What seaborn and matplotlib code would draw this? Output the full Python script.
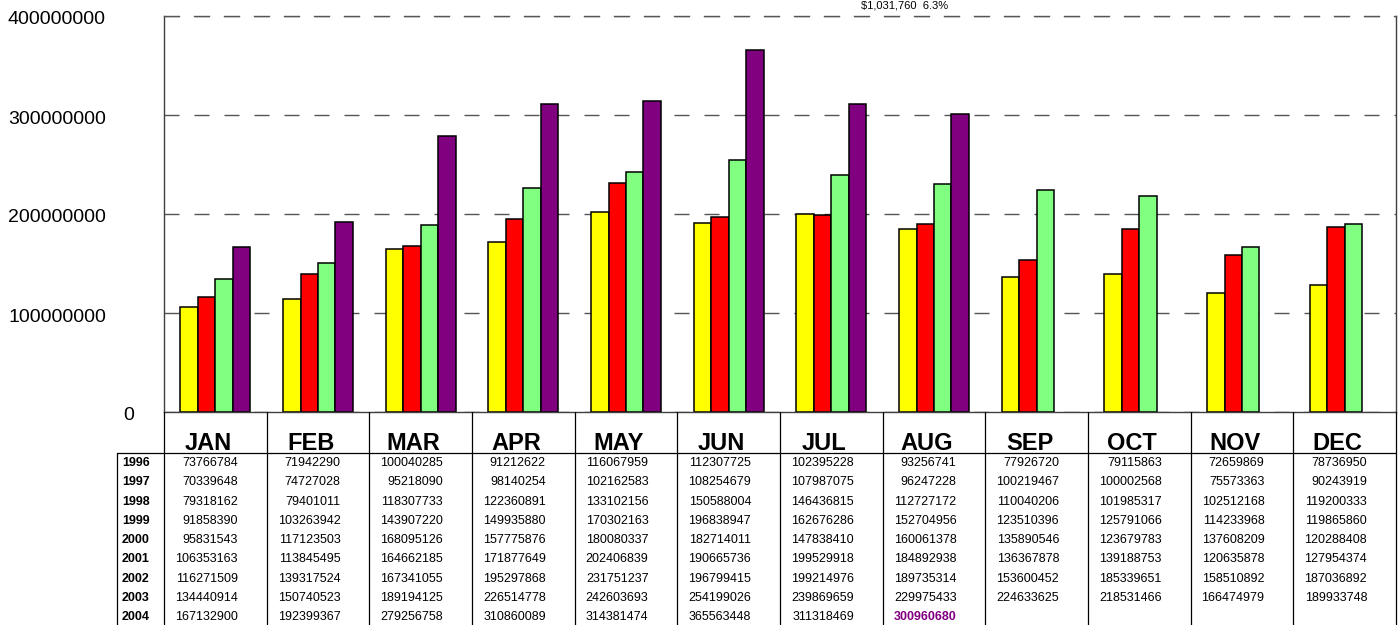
import numpy as np
import pandas as pd
import matplotlib
matplotlib.use("Agg")
import matplotlib.pyplot as plt
import matplotlib.transforms as mtransforms
import seaborn as sns

# ---------------- data ----------------
months = ["JAN", "FEB", "MAR", "APR", "MAY", "JUN", "JUL", "AUG", "SEP", "OCT", "NOV", "DEC"]
years = ["1996", "1997", "1998", "1999", "2000", "2001", "2002", "2003", "2004"]

v1996 = [73766784, 71942290, 100040285, 91212622, 116067959, 112307725, 102395228, 93256741, 77926720, 79115863, 72659869, 78736950]
v1997 = [70339648, 74727028, 95218090, 98140254, 102162583, 108254679, 107987075, 96247228, 100219467, 100002568, 75573363, 90243919]
v1998 = [79318162, 79401011, 118307733, 122360891, 133102156, 150588004, 146436815, 112727172, 110040206, 101985317, 102512168, 119200333]
v1999 = [91858390, 103263942, 143907220, 149935880, 170302163, 196838947, 162676286, 152704956, 123510396, 125791066, 114233968, 119865860]
v2000 = [95831543, 117123503, 168095126, 157775876, 180080337, 182714011, 147838410, 160061378, 135890546, 123679783, 137608209, 120288408]
v2001 = [106353163, 113845495, 164662185, 171877649, 202406839, 190665736, 199529918, 184892938, 136367878, 139188753, 120635878, 127954374]
v2002 = [116271509, 139317524, 167341055, 195297868, 231751237, 196799415, 199214976, 189735314, 153600452, 185339651, 158510892, 187036892]
v2003 = [134440914, 150740523, 189194125, 226514778, 242603693, 254199026, 239869659, 229975433, 224633625, 218531466, 166474979, 189933748]
v2004 = [167132900, 192399367, 279256758, 310860089, 314381474, 365563448, 311318469, 300960680, None, None, None, None]

table_rows = [v1996, v1997, v1998, v1999, v2000, v2001, v2002, v2003, v2004]

plot_years = ["2001", "2002", "2003", "2004"]
plot_series = [v2001, v2002, v2003, v2004]
bar_colors = ["#FFFF00", "#FF0000", "#80FF80", "#800080"]

yticks = [0, 100000000, 200000000, 300000000, 400000000]
top_note = "$1,031,760  6.3%"

# ---------------- frame ----------------
records = []
for yr, vals in zip(plot_years, plot_series):
    for m, v in zip(months, vals):
        if v is not None:
            records.append({"month": m, "year": yr, "value": v})
df = pd.DataFrame(records)

sns.set_theme(style="white")
plt.rcParams["font.family"] = ["Liberation Sans", "DejaVu Sans"]

W, H = 1399, 625
fig = plt.figure(figsize=(W / 100, H / 100), dpi=100)

# pixel layout
ax_l, ax_r, ax_t, ax_b = 164, 1396, 16, 412
tb_l = 117
ax = fig.add_axes([ax_l / W, 1 - ax_b / H, (ax_r - ax_l) / W, (ax_b - ax_t) / H])

sns.barplot(data=df, x="month", y="value", hue="year", order=months, hue_order=plot_years,
            palette=bar_colors, width=0.68, edgecolor="black", linewidth=1.1,
            errorbar=None, legend=False, saturation=1, ax=ax)

ax.set_xlim(-0.5, 11.5)
ax.set_ylim(0, 400000000)
ax.set_xlabel("")
ax.set_ylabel("")
ax.set_xticks([])
ax.set_yticks(yticks)
ax.set_yticklabels([])
ax.tick_params(length=0)
dash = (0, (10.8, 10.8))
ax.yaxis.grid(True, color="#555555", linestyle=dash, linewidth=1.0)
ax.set_axisbelow(True)
for s in ["left", "right", "bottom"]:
    ax.spines[s].set_visible(True)
    ax.spines[s].set_color("#404040")
    ax.spines[s].set_linewidth(1.0)
ax.spines["top"].set_color("#555555")
ax.spines["top"].set_linestyle(dash)
ax.spines["top"].set_linewidth(1.0)

# y labels (Excel-like placement)
trans = mtransforms.blended_transform_factory(fig.transFigure, ax.transData)
trans = mtransforms.offset_copy(trans, fig=fig, x=0, y=-4, units="dots")
for v in yticks:
    xpos = 123 / W if v == 0 else 8 / W
    ax.text(xpos, v, f"{v}", transform=trans, ha="left", va="center",
            fontsize=14, color="black", clip_on=False)

# ---------------- table ----------------
tb_h = H - ax_b
tax = fig.add_axes([tb_l / W, 0, (ax_r - tb_l) / W, tb_h / H])
unit_px = (ax_r - ax_l) / 12.0
tax.set_xlim(-0.5 - (ax_l - tb_l) / unit_px, 11.5)
tax.set_ylim(tb_h, 0)
tax.axis("off")

header_h = 41.4
row_h = 19.25
xl = tax.get_xlim()[0]

lc = "black"
# vertical month separators
for k in range(13):
    tax.plot([k - 0.5, k - 0.5], [0, tb_h], color=lc, lw=0.9, clip_on=False)
# year column left border
tax.plot([xl, xl], [header_h, tb_h], color=lc, lw=0.9, clip_on=False)
# header bottom line
tax.plot([xl, 11.5], [header_h, header_h], color=lc, lw=0.9, clip_on=False)

# month labels
for i, m in enumerate(months):
    tax.text(i - 7 / unit_px, 31, m, ha="center", va="center", fontsize=17,
             fontweight="bold", color="black")

# year labels & numbers
for r, (yr, vals) in enumerate(zip(years, table_rows)):
    yc = header_h + (r + 0.5) * row_h
    tax.text(xl + 5 / unit_px, yc, yr, ha="left", va="center", fontsize=9,
             fontweight="bold", color="black")
    for i, v in enumerate(vals):
        if v is None:
            continue
        special = (yr == "2004" and i == 7)
        tax.text(i + 22.5 / unit_px, yc, f"{v}", ha="right", va="center", fontsize=9,
                 color="#800080" if special else "black",
                 fontweight="bold" if special else "normal")

# note at the very top
fig.text(905 / W, 1 - 1 / H, top_note, ha="center", va="top", fontsize=8, color="black")

fig.savefig("out.png", dpi=100)
